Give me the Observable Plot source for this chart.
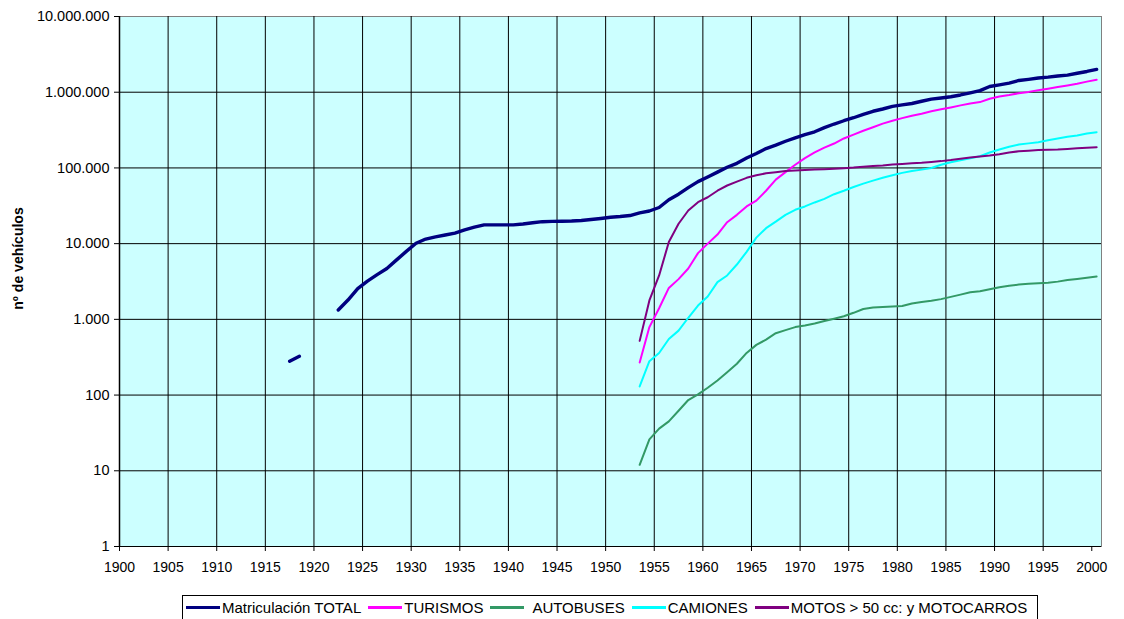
<!DOCTYPE html>
<html><head><meta charset="utf-8">
<script src="https://cdn.jsdelivr.net/npm/d3@7"></script>
<script src="https://cdn.jsdelivr.net/npm/@observablehq/plot@0.6"></script>
<style>
body{margin:0;background:#fff;font-family:"Liberation Sans",Arial,sans-serif;}
#legend{display:inline-flex;align-items:center;margin:5px 0 0 182px;border:1px solid #000;padding:3px 10px 5px 3px;font-size:15px;white-space:nowrap;color:#000}
.item{display:flex;align-items:center;margin-right:7px}
.item:last-child{margin-right:0}
.sw{width:34px;height:3px;margin-right:2px}
</style></head><body><div id="chart"></div><div id="legend"></div>
<script>
// Categories
const yTicks = [1, 10, 100, 1000, 10000, 100000, 1000000, 10000000];
const xTicks = [1900,1905,1910,1915,1920,1925,1930,1935,1940,1945,1950,1955,1960,1965,1970,1975,1980,1985,1990,1995,2000];

// Matriculación TOTAL, years 1917..2000 (null = no data)
const totalStart = 1917;
const totalValues = [280,325,null,null,null,1330,1800,2550,3200,3900,4700,6100,7900,10100,
 11500,12300,13000,13800,15200,16500,17700,17700,17700,17700,18200,18900,19500,19700,19800,19900,
 20200,20800,21500,22300,22800,23500,25500,27000,30000,38000,45000,55000,66000,76000,88000,102000,
 115000,135000,155000,180000,200000,225000,250000,275000,300000,340000,380000,420000,460000,510000,
 560000,600000,650000,680000,710000,760000,810000,840000,870000,920000,980000,1050000,1190000,1250000,
 1320000,1430000,1480000,1540000,1580000,1640000,1680000,1780000,1880000,2000000];

// Other series, years 1953..2000
const seriesStart = 1953;
const turismos = [270,790,1400,2600,3400,4700,7500,10000,13200,19200,24000,31000,37000,50000,70000,88000,110000,
 135000,160000,185000,210000,245000,275000,310000,345000,385000,420000,455000,490000,520000,560000,595000,630000,
 670000,710000,740000,820000,880000,920000,970000,1010000,1060000,1110000,1170000,1230000,1290000,1380000,1460000];
const autobuses = [12,26,36,45,62,86,102,125,156,200,259,360,460,540,657,720,790,830,880,950,1020,1100,1220,1370,
 1430,1460,1480,1500,1620,1700,1760,1850,1980,2120,2280,2350,2500,2650,2780,2880,2950,2990,3050,3150,3300,3420,3550,3680];
const camiones = [130,280,360,550,710,1050,1520,2000,3100,3800,5300,7800,12000,16000,19500,24000,28000,31000,35000,
 39000,45000,50000,56000,62000,68000,74000,80000,86000,91000,95000,100000,110000,119000,126000,134000,143000,160000,
 175000,190000,204000,211000,219000,232000,245000,258000,268000,285000,296000];
const motos = [520,1780,3800,10500,18300,27400,35300,41000,50000,58600,66000,74000,80000,85000,88000,91000,92500,94000,
 95000,96000,97300,99000,101000,104000,106000,108000,111000,113000,115000,117000,120000,123000,127000,132000,137000,
 142000,146000,152000,160000,166000,169000,172000,174000,175000,178000,182000,185000,188000];

const seriesNames = ["Matriculación TOTAL","TURISMOS","AUTOBUSES","CAMIONES","MOTOS > 50 cc: y MOTOCARROS"];
const seriesColors = ["#000080","#FF00FF","#339966","#00FFFF","#800080"];
const seriesWidths = [3.4,2,2,2,2];

function rows(start, vals){ return vals.map((v,i)=>({year:start+i, value:v})); }
const data = [
  rows(totalStart,totalValues),
  rows(seriesStart,turismos),
  rows(seriesStart,autobuses),
  rows(seriesStart,camiones),
  rows(seriesStart,motos)
];

const fmt = d3.formatLocale({decimal:",",thousands:".",grouping:[3],currency:["",""]}).format(",d");

const chart = Plot.plot({
  width:1124, height:590,
  marginLeft:119, marginRight:23, marginTop:16, marginBottom:44,
  style:{fontFamily:"'Liberation Sans', Arial, sans-serif", fontSize:"14px", background:"#fff", color:"#000"},
  x:{type:"linear", domain:[1900,2001]},
  y:{type:"log", domain:[1,10000000]},
  marks:[
    Plot.frame({fill:"#CCFFFF", stroke:"#808080"}),
    Plot.ruleY(yTicks.slice(1,-1), {stroke:"#000", strokeWidth:1}),
    Plot.ruleX(xTicks.slice(1,-1), {stroke:"#000", strokeWidth:1}),
    Plot.ruleX([1900], {stroke:"#000", strokeWidth:1.5}),
    Plot.ruleY([1], {stroke:"#000", strokeWidth:1}),
    ...data.map((d,i)=>Plot.line(d, {x:r=>r.year+0.5, y:"value", stroke:seriesColors[i], strokeWidth:seriesWidths[i], strokeLinecap:"round", strokeLinejoin:"round"})),
    Plot.axisY({ticks:yTicks, tickFormat:fmt, tickSize:5, tickPadding:5, label:null, fontSize:14.5}),
    Plot.axisX({ticks:xTicks, tickFormat:d=>String(d), tickSize:5, tickPadding:11, label:null, fontSize:14}),
    Plot.text(["nº de vehículos"], {frameAnchor:"left", textAnchor:"middle", dx:-101, dy:-23, rotate:-90, fontWeight:"bold", fontSize:14})
  ]
});
document.getElementById("chart").appendChild(chart);

const leg = document.getElementById("legend");
seriesNames.forEach((n,i)=>{
  const it = document.createElement("div"); it.className="item";
  const sw = document.createElement("span"); sw.className="sw"; sw.style.background=seriesColors[i];
  const tx = document.createElement("span"); tx.textContent = n;
  if(i===2) tx.style.marginLeft="6px";
  it.appendChild(sw); it.appendChild(tx); leg.appendChild(it);
});
</script></body></html>
